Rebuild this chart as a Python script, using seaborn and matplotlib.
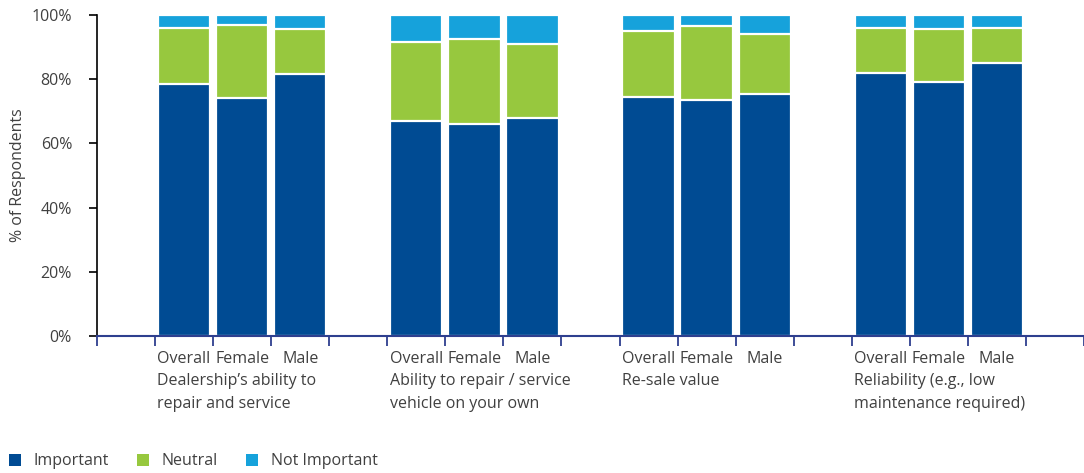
import numpy as np
import pandas as pd
import matplotlib
matplotlib.use("Agg")
import matplotlib.pyplot as plt
import seaborn as sns
from matplotlib.patches import Patch
from matplotlib.transforms import blended_transform_factory

groups = ["Dealership\u2019s ability to\nrepair and service",
          "Ability to repair / service\nvehicle on your own",
          "Re-sale value",
          "Reliability (e.g., low\nmaintenance required)"]
segments = ["Overall", "Female", "Male"]

important = [78.5, 74.0, 81.5, 67.0, 66.0, 68.0, 74.5, 73.5, 75.5, 82.0, 79.0, 85.0]
neutral = [17.5, 23.0, 14.0, 24.5, 26.5, 23.0, 20.5, 23.0, 18.5, 14.0, 16.5, 11.0]
not_important = [4.0, 3.0, 4.5, 8.5, 7.5, 9.0, 5.0, 3.5, 6.0, 4.0, 4.5, 4.0]

yticks = [0, 20, 40, 60, 80, 100]
ytick_labels = ["0%", "20%", "40%", "60%", "80%", "100%"]

C_IMP = "#004B93"
C_NEU = "#97C83E"
C_NOT = "#16A2DB"
TXT = "#404040"

plt.rcParams['font.family'] = ['Open Sans', 'DejaVu Sans']

rows = []
for gi, g in enumerate(groups):
    for si, s in enumerate(segments):
        k = gi * 3 + si
        rows.append(dict(group=g, segment=s, pos=gi * 4 + si + 1,
                         imp=important[k], neu=neutral[k], nimp=not_important[k]))
df = pd.DataFrame(rows)
df["c2"] = df["imp"] + df["neu"]
df["c3"] = df["c2"] + df["nimp"]

fig = plt.figure(figsize=(10.84, 4.73), dpi=100)
ax = fig.add_axes([97 / 1084, 1 - 336 / 473, (1084 - 97) / 1084, (336 - 15) / 473])

for col, c in [("c3", C_NOT), ("c2", C_NEU), ("imp", C_IMP)]:
    sns.barplot(data=df, x="pos", y=col, native_scale=True, color=c, width=0.9,
                edgecolor="white", linewidth=1.6, saturation=1, ax=ax, errorbar=None)

FS = 11.5
ax.set_xlim(-0.5, 16.5)
ax.set_ylim(0, 100)
ax.set_yticks(yticks)
ax.set_yticklabels(ytick_labels, fontsize=FS, color=TXT)
ax.set_ylabel("% of Respondents", fontsize=FS, color=TXT, labelpad=4)
ax.set_xlabel("")
ax.set_xticks(np.arange(-0.5, 17.0, 1.0))
ax.set_xticklabels([])
ax.tick_params(axis="x", length=7, width=1.3, color="#2E3F8F", direction="out")
ax.tick_params(axis="y", length=6, width=1.2, color="black", pad=12)
for s in ["top", "right"]:
    ax.spines[s].set_visible(False)
ax.spines["left"].set_color("black")
ax.spines["left"].set_linewidth(1.2)
ax.spines["bottom"].set_color("#2E3F8F")
ax.spines["bottom"].set_linewidth(1.5)
ax.set_facecolor("white")

trans = blended_transform_factory(ax.transData, fig.transFigure)
for _, r in df.iterrows():
    ax.text(r["pos"], 1 - 359 / 473, r["segment"], transform=trans, ha="center",
            va="center", fontsize=FS, color=TXT)
for gi, g in enumerate(groups):
    ax.text(gi * 4 + 1 - 0.46, 1 - 373 / 473, g, transform=trans, ha="left", va="top",
            fontsize=FS, color=TXT, linespacing=1.55)

handles = [Patch(facecolor=C_IMP, label="Important"),
           Patch(facecolor=C_NEU, label="Neutral"),
           Patch(facecolor=C_NOT, label="Not Important")]
fig.legend(handles=handles, loc="lower left", bbox_to_anchor=(-0.002, -0.016), ncol=3,
           frameon=False, fontsize=FS, labelcolor=TXT, handlelength=0.75,
           handleheight=0.75, handletextpad=0.8, columnspacing=1.75, borderaxespad=0.3)

fig.savefig("out.png", dpi=100, facecolor="white")
